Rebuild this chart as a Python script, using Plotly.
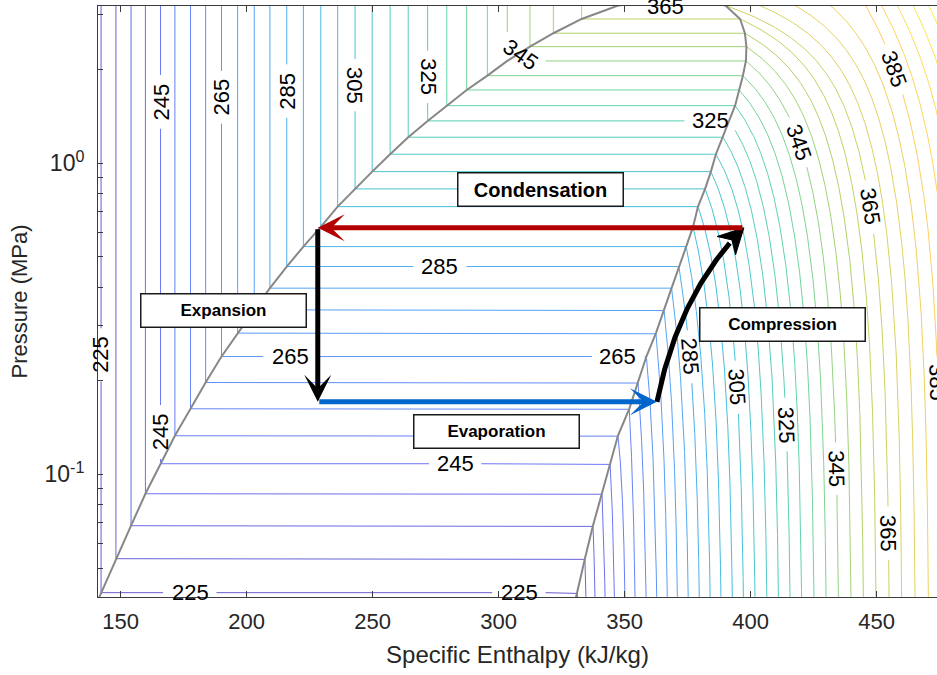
import numpy as np
import plotly.graph_objects as go

# ---------------- values ----------------
# isotherm levels drawn (K)
levels = [225, 230, 235, 240, 245, 250, 255, 260, 265, 270, 275, 280, 285, 290, 295,
          300, 305, 310, 315, 320, 325, 330, 335, 340, 345, 350, 355, 360, 365,
          370, 375, 380, 385, 390, 395, 400, 405, 410]

# saturation dome (temperature K, pressure MPa, liquid / vapour enthalpy kJ/kg)
sat_T = [220, 225, 230, 235, 240, 245, 250, 255, 260, 265, 270, 275, 280, 285, 290,
         295, 300, 305, 310, 315, 320, 325, 330, 335, 340, 345, 350, 355, 360, 365]
sat_p = [0.0324, 0.04166, 0.05357, 0.06838, 0.08663, 0.10817, 0.13305, 0.16245, 0.19733,
         0.23914, 0.28439, 0.33790, 0.39665, 0.46548, 0.53950, 0.62416, 0.72524, 0.82694,
         0.93977, 1.0688, 1.2121, 1.3677, 1.5311, 1.7199, 1.9116, 2.1317, 2.3693, 2.6165,
         2.9082, 3.2133]
sat_hl = [136.3, 142.2, 148.1, 154.1, 159.8, 165.8, 171.5, 177.7, 183.7, 190.0, 196.4,
          203.0, 209.2, 215.9, 222.5, 229.4, 236.1, 243.0, 249.8, 256.9, 264.1, 271.8,
          279.4, 287.3, 295.5, 303.4, 312.4, 321.7, 332.9, 347.4]
sat_hv = [328.0, 331.1, 334.2, 337.4, 341.0, 344.2, 347.3, 351.8, 355.3, 358.6, 362.4,
          365.6, 368.6, 371.5, 374.4, 377.1, 379.1, 381.9, 384.2, 386.2, 389.0, 391.4,
          393.8, 395.4, 396.9, 398.1, 398.3, 397.7, 395.8, 390.0]
crit_h, crit_p = 370.5, 3.38

# vapour isotherms: enthalpy where each level meets the bottom of the chart
p_bottom = 0.0404
vap_hb = [331.3, 334.6, 338.2, 342.2, 345.9, 350.1, 354.1, 358.5, 362.7, 366.9, 370.9,
          375.2, 379.6, 383.9, 388.2, 392.7, 397.1, 401.7, 406.4, 411.0, 415.6, 420.2,
          425.1, 429.9, 434.8, 439.8, 444.7, 449.7, 454.9, 459.9, 465.2, 470.5, 475.8,
          481.1, 486.4, 491.7, 497.0, 502.3]
dep_T = [225, 285, 345, 365, 385, 410]
dep_A = [22.0, 19.0, 13.0, 11.0, 9.5, 8.0]
dep_fade_T = [365, 385]
dep_power = 4

# refrigeration cycle states: 1 compressor inlet, 2 outlet, 3 condenser exit, 4 after valve
cycle_h = [362.8, 397.3, 228.2, 228.2]
cycle_p = [0.171, 0.62, 0.62, 0.171]
comp_ctrl = (371.4, 0.3825)   # bend of the compression path

# contour labels: liquid (T, p, angle), two-phase (T, h), vapour (T, p), free (T, h, p, angle)
lab_liquid = [(225, 0.2422, -90), (245, 1.573, -90), (245, 0.1370, -90), (265, 1.633, -90),
              (285, 1.706, -90), (305, 1.784, 90), (325, 1.893, 90)]
lab_mid = [(225, 177.5), (225, 308.1), (245, 282.7), (265, 217.2), (265, 347.3),
           (285, 276.7), (325, 384.2), (365, 366.0)]
lab_vap = [(285, 0.2389), (305, 0.1904), (325, 0.1444), (345, 0.1043), (365, 0.0647),
           (345, 1.170), (365, 0.724), (385, 2.008), (385, 0.1967)]
lab_free = [(345, 308.5, 2.228, 35)]

stage_text = ["Condensation", "Expansion", "Evaporation", "Compression"]
stage_h = [316.6, 190.6, 299.1, 412.6]
stage_p = [0.8209, 0.3365, 0.1375, 0.3034]
stage_size = [20, 17, 17, 17]

# ---------------- layout geometry ----------------
FW, FH = 937, 675
ML, MT, MB, MR = 98, 6, 78, 0
PW, PH = FW - ML - MR, FH - MT - MB
xr = [140.99, 473.93]
yr = [-1.3942, 0.5053]
FONT = "Liberation Sans, Arial, sans-serif"


def to_px(h, p):
    h = np.asarray(h, float)
    p = np.asarray(p, float)
    x = ML + (h - xr[0]) / (xr[1] - xr[0]) * PW
    y = MT + (yr[1] - np.log10(p)) / (yr[1] - yr[0]) * PH
    return x, y


def from_px(x, y):
    h = xr[0] + (np.asarray(x, float) - ML) / PW * (xr[1] - xr[0])
    lp = yr[1] - (np.asarray(y, float) - MT) / PH * (yr[1] - yr[0])
    return h, 10 ** lp


parula = [(62, 38, 168), (72, 82, 244), (46, 135, 247), (18, 177, 214),
          (55, 200, 151), (171, 199, 57), (254, 195, 56), (249, 251, 21)]


def parula_color(t, alpha):
    t = min(max(t, 0.0), 1.0) * (len(parula) - 1)
    i = min(int(t), len(parula) - 2)
    f = t - i
    c = [parula[i][k] + (parula[i + 1][k] - parula[i][k]) * f for k in range(3)]
    return "rgba(%d,%d,%d,%.2f)" % (round(c[0]), round(c[1]), round(c[2]), alpha)


T_LO, T_HI = 215.0, 415.0
Tmax_sat = sat_T[-1]


def sat(T):
    return (np.interp(T, sat_T, sat_p), np.interp(T, sat_T, sat_hl), np.interp(T, sat_T, sat_hv))


def departure(T):
    A = float(np.interp(T, dep_T, dep_A))
    k = dep_power
    if T <= Tmax_sat:
        ps, hl, hv = sat(T)
        hb = float(np.interp(T, levels, vap_hb))
        D = hb - hv
        lin = A * (ps - p_bottom)
        if D > lin:
            B = (D - lin) / (ps ** k - p_bottom ** k)
        else:
            A = D / (ps - p_bottom)
            B = 0.0
    else:
        B365 = departure(Tmax_sat)[1]
        B = float(np.interp(T, dep_fade_T, [B365, 0.0]))
    return A, B


def vap_h(T, p):
    A, B = departure(T)
    hb = float(np.interp(T, levels, vap_hb))
    p = np.asarray(p, float)
    return hb - A * (p - p_bottom) - B * (p ** dep_power - p_bottom ** dep_power)


# label centres and angles
labels = []  # (T, h, p, angle)
for T, p, ang in lab_liquid:
    labels.append((T, float(sat(T)[1]), p, ang))
for T, h in lab_mid:
    labels.append((T, h, float(sat(T)[0]), 0))
for T, p in lab_vap:
    h = float(vap_h(T, p))
    x1, y1 = to_px(vap_h(T, p * 1.03), p * 1.03)
    x2, y2 = to_px(vap_h(T, p / 1.03), p / 1.03)
    ang = float(np.degrees(np.arctan2(y2 - y1, x2 - x1)))
    labels.append((T, h, p, ang))
for T, h, p, ang in lab_free:
    labels.append((T, h, p, ang))

GAP = 26.0
P_TOP = 3.7

fig = go.Figure()

for T in levels:
    if T <= Tmax_sat:
        ps, hl, hv = sat(T)
        p_liq = np.geomspace(P_TOP, ps, 400)
        h_liq = np.full_like(p_liq, hl)
        h_mid = np.linspace(hl, hv, 500)
        p_mid = np.full_like(h_mid, ps)
        p_vap = np.geomspace(ps, p_bottom, 400)
        hh = np.concatenate([h_liq, h_mid, vap_h(T, p_vap)])
        pp = np.concatenate([p_liq, p_mid, p_vap])
    else:
        pp = np.geomspace(P_TOP, p_bottom, 900)
        hh = vap_h(T, pp)
    px, py = to_px(hh, pp)
    mask = np.zeros(len(hh), bool)
    for (LT, lh, lp, la) in labels:
        if LT == T:
            cx, cy = to_px(lh, lp)
            mask |= np.hypot(px - cx, py - cy) < GAP
    hh = hh.astype(object)
    hh[mask] = None
    fig.add_trace(go.Scatter(
        x=list(hh), y=list(pp), mode="lines", showlegend=False, hoverinfo="skip",
        line=dict(color=parula_color((T - T_LO) / (T_HI - T_LO), 0.8), width=1),
        connectgaps=False))

# saturation dome
dome_h = list(sat_hl) + [crit_h] + list(sat_hv[::-1])
dome_p = list(sat_p) + [crit_p] + list(sat_p[::-1])
fig.add_trace(go.Scatter(x=dome_h, y=dome_p, mode="lines", showlegend=False,
                         hoverinfo="skip", line=dict(color="rgb(135,135,135)", width=2)))


def bez(t):
    h = (1 - t) ** 2 * cycle_h[0] + 2 * (1 - t) * t * comp_ctrl[0] + t ** 2 * cycle_h[1]
    lp = ((1 - t) ** 2 * np.log10(cycle_p[0]) + 2 * (1 - t) * t * np.log10(comp_ctrl[1])
          + t ** 2 * np.log10(cycle_p[1]))
    return h, 10 ** lp


# compression path (curved) + notched arrow head along its end tangent
HEAD_LEN, HEAD_HALF, HEAD_NOTCH = 25.0, 13.0, 8.0
tip_x, tip_y = to_px(*bez(1.0))
prv_x, prv_y = to_px(*bez(0.98))
ux, uy = tip_x - prv_x, tip_y - prv_y
nrm = np.hypot(ux, uy)
ux, uy = ux / nrm, uy / nrm
nx, ny = -uy, ux
bx, by = tip_x - HEAD_LEN * ux, tip_y - HEAD_LEN * uy
kx, ky = tip_x - (HEAD_LEN - HEAD_NOTCH) * ux, tip_y - (HEAD_LEN - HEAD_NOTCH) * uy
head_px = [tip_x, bx + HEAD_HALF * nx, kx, bx - HEAD_HALF * nx, tip_x]
head_py = [tip_y, by + HEAD_HALF * ny, ky, by - HEAD_HALF * ny, tip_y]
head_h, head_p = from_px(head_px, head_py)

# stop the thick line inside the head
ts = np.linspace(0, 1, 400)
sx, sy = to_px(*bez(ts))
t_end = ts[np.argmin(np.abs(np.hypot(sx - tip_x, sy - tip_y) - (HEAD_LEN - 4)))]
c_h, c_p = bez(np.linspace(0, t_end, 100))
fig.add_trace(go.Scatter(x=c_h, y=c_p, mode="lines", showlegend=False, hoverinfo="skip",
                         line=dict(color="black", width=5)))
fig.add_trace(go.Scatter(x=head_h, y=head_p, mode="lines", fill="toself",
                         fillcolor="black", showlegend=False, hoverinfo="skip",
                         line=dict(color="black", width=1)))

ann = []
# contour labels
for (T, h, p, ang) in labels:
    ly = float(np.log10(p))
    ly = min(ly, yr[1] - 0.002)
    h = min(h, xr[1] - 0.02)
    ann.append(dict(x=h, y=ly, xref="x", yref="y", text=str(T),
                    showarrow=False, textangle=ang,
                    font=dict(family=FONT, size=22, color="black")))


def arrow(i_from, i_to, color):
    return dict(x=cycle_h[i_to], y=float(np.log10(cycle_p[i_to])), xref="x", yref="y",
                ax=cycle_h[i_from], ay=float(np.log10(cycle_p[i_from])), axref="x",
                ayref="y", text="", showarrow=True,
                arrowhead=3, arrowsize=0.9, arrowwidth=5, arrowcolor=color, standoff=0)


ann.append(arrow(1, 2, "rgb(178,0,0)"))
ann.append(arrow(2, 3, "black"))
ann.append(arrow(3, 0, "rgb(0,102,204)"))

for txt, h, p, fs in zip(stage_text, stage_h, stage_p, stage_size):
    ann.append(dict(x=h, y=float(np.log10(p)), xref="x", yref="y",
                    text="<b>%s</b>" % txt, showarrow=False,
                    font=dict(family=FONT, size=fs, color="black"),
                    bgcolor="white", bordercolor="#1a1a1a", borderwidth=1.5,
                    borderpad=2, width=160, height=28))

ytick_vals = [0.05, 0.06, 0.07, 0.08, 0.09, 0.1, 0.2, 0.3, 0.4, 0.5, 0.6, 0.7, 0.8, 0.9,
              1, 2, 3]
ytick_text = ["10<sup>-1</sup>" if v == 0.1 else ("10<sup>0</sup>" if v == 1 else "")
              for v in ytick_vals]

fig.update_layout(
    width=FW, height=FH,
    margin=dict(l=ML, r=MR, t=MT, b=MB, pad=0),
    paper_bgcolor="white", plot_bgcolor="white",
    annotations=ann,
    xaxis=dict(range=xr, showgrid=False, zeroline=False, showline=True,
               linecolor="#3c3c3c", linewidth=1, mirror="ticks",
               ticks="inside", ticklen=6, tickcolor="#3c3c3c",
               tickvals=[150, 200, 250, 300, 350, 400, 450], ticklabelstandoff=5,
               tickfont=dict(family=FONT, size=22, color="#262626"),
               title=dict(text="Specific Enthalpy (kJ/kg)", standoff=12,
                          font=dict(family=FONT, size=24, color="#262626"))),
    yaxis=dict(type="log", range=yr, showgrid=False, zeroline=False, showline=True,
               linecolor="#3c3c3c", linewidth=1, mirror=False,
               ticks="inside", ticklen=5, tickcolor="#3c3c3c",
               tickvals=ytick_vals, ticktext=ytick_text, ticklabelstandoff=8,
               tickfont=dict(family=FONT, size=23, color="#262626"),
               title=dict(text="Pressure (MPa)", standoff=10,
                          font=dict(family=FONT, size=22, color="#262626"))),
)

fig.write_html("out.html")
